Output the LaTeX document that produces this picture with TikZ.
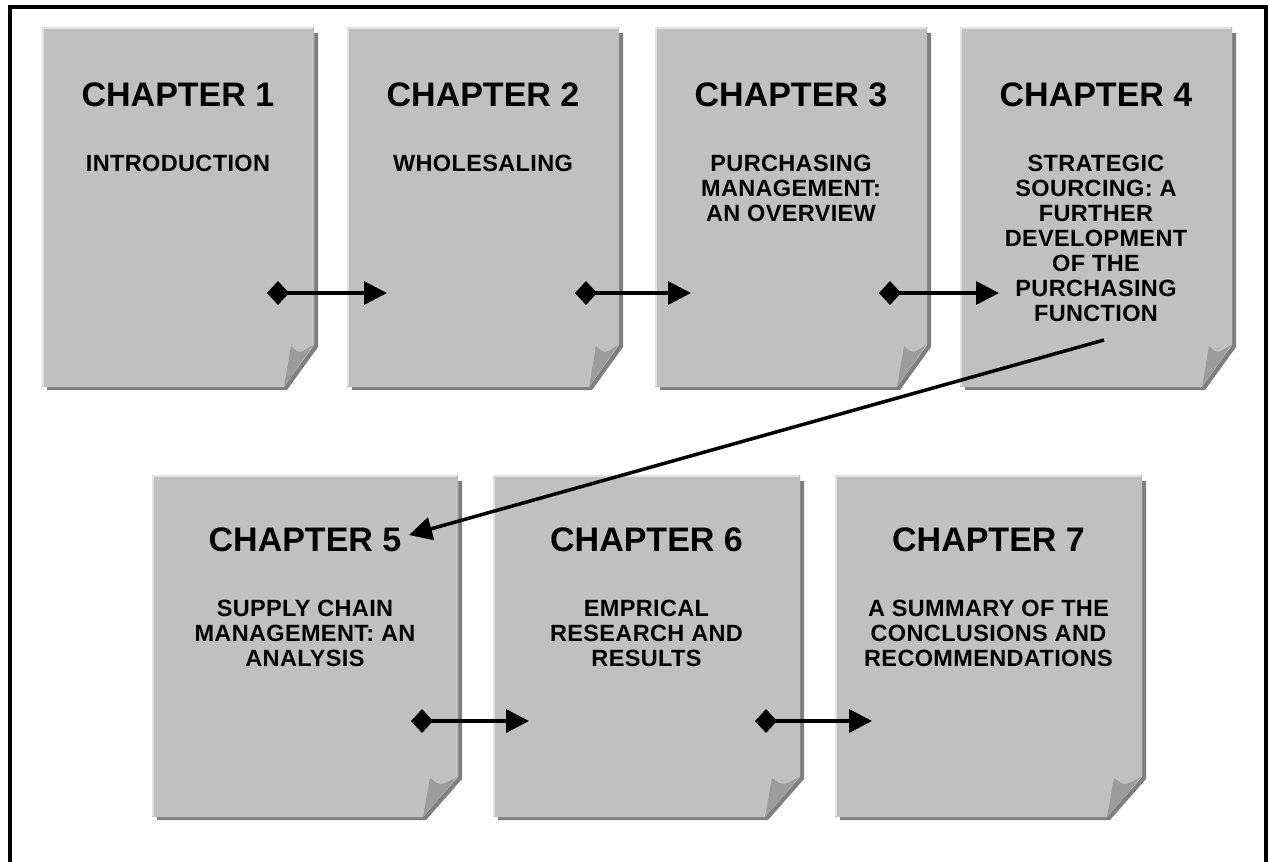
\documentclass[tikz,border=0pt]{standalone}
\usepackage{fontspec}
\setmainfont{Liberation Sans}
\newfontfamily\descfont[LetterSpace=1.5]{Liberation Sans}
\usetikzlibrary{arrows.meta}
\definecolor{pagefill}{HTML}{C0C0C0}
\definecolor{pageshadow}{HTML}{7F7F7F}
\definecolor{pagelight}{HTML}{E2E2E2}
\definecolor{pagefold}{HTML}{9C9C9C}
\newcommand{\docpage}[6]{%
  \fill[pageshadow] ({#1+5},{#2+6}) -- ({#3+4},{#2+6}) -- ({#3+4},{#4-#6+2}) -- ({#3-#5+3},{#4+3}) -- ({#1+5},{#4+3}) -- cycle;
  \fill[pagefill] (#1,#2) -- (#3,#2) -- (#3,{#4-#6}) -- ({#3-#5},#4) -- (#1,#4) -- cycle;
  \draw[pagelight, line width=2.5pt] ({#1+1.2},{#4-1}) -- ({#1+1.2},{#2+1.2}) -- ({#3-1},{#2+1.2});
  \fill[pagefold] ({#3-#5+7},{#4-#6+1}) .. controls ({#3-#5/2},{#4-#6+9}) .. ({#3-1},{#4-#6}) -- ({#3-#5},{#4}) -- cycle;
}
\tikzset{
  chap/.style={font=\bfseries\fontsize{34}{40}\selectfont, inner sep=0pt, anchor=base},
  desc/.style={font=\descfont\bfseries\fontsize{23.5}{25}\selectfont, inner sep=0pt, anchor=north, align=center},
  link/.style={line width=3.5pt, {Diamond[length=22pt,width=24pt]}-{Triangle[length=23pt,width=23pt]}},
  jump/.style={line width=3.5pt, -{Triangle[length=23pt,width=23pt]}}
}
\begin{document}
\begin{tikzpicture}[x=1pt,y=-1pt]
\useasboundingbox (0,0) rectangle (1269,862);
\draw[line width=4pt] (9.5,866) -- (9.5,7) -- (1265.5,7) -- (1265.5,866);
% top row
\docpage{42}{27}{314}{387}{30}{42}
\docpage{347}{27}{619}{387}{30}{42}
\docpage{655}{27}{927}{387}{30}{42}
\docpage{960}{27}{1232}{387}{30}{42}
% bottom row
\docpage{152}{475}{458}{817}{35}{40}
\docpage{493}{475}{800}{817}{35}{40}
\docpage{835}{475}{1142}{817}{35}{40}
% texts
\node[chap] (c1) at (178,106) {CHAPTER 1};
\node[desc] (d1) at (178,155) {INTRODUCTION};
\node[chap] (c2) at (483,106) {CHAPTER 2};
\node[desc] (d2) at (483,155) {WHOLESALING};
\node[chap] (c3) at (791,106) {CHAPTER 3};
\node[desc] (d3) at (791,155) {PURCHASING\\MANAGEMENT:\\AN OVERVIEW};
\node[chap] (c4) at (1096,106) {CHAPTER 4};
\node[desc] (d4) at (1096,155) {STRATEGIC\\SOURCING: A\\FURTHER\\DEVELOPMENT\\OF THE\\PURCHASING\\FUNCTION};
\node[chap] (c5) at (305,551) {CHAPTER 5};
\node[desc] (d5) at (305,600) {SUPPLY CHAIN\\MANAGEMENT: AN\\ANALYSIS};
\node[chap] (c6) at (646.5,551) {CHAPTER 6};
\node[desc] (d6) at (646.5,600) {EMPRICAL\\RESEARCH AND\\RESULTS};
\node[chap] (c7) at (988.5,551) {CHAPTER 7};
\node[desc] (d7) at (988.5,600) {A SUMMARY OF THE\\CONCLUSIONS AND\\RECOMMENDATIONS};
% connector end points
\coordinate (s1) at (267,293); \coordinate (e1) at (387,293);
\coordinate (s2) at (575,293); \coordinate (e2) at (691,293);
\coordinate (s3) at (879,293); \coordinate (e3) at (999,293);
\coordinate (s4) at (1104,340); \coordinate (e4) at (409,535);
\coordinate (s5) at (411,721); \coordinate (e5) at (529,721);
\coordinate (s6) at (755,721); \coordinate (e6) at (872,721);
\draw[link] (s1) -- (e1);
\draw[link] (s2) -- (e2);
\draw[link] (s3) -- (e3);
\draw[jump] (s4) -- (e4);
\draw[link] (s5) -- (e5);
\draw[link] (s6) -- (e6);
\end{tikzpicture}
\end{document}
